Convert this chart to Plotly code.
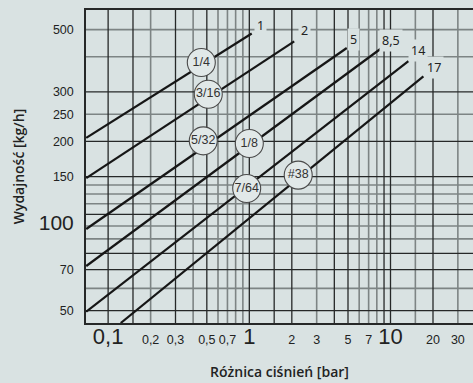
import math
import plotly.graph_objects as go

BG = "#d9e2e2"

# ---- data ----
series_names = ["1", "2", "5", "8,5", "14", "17"]
line_x0 = [0.07, 0.07, 0.07, 0.07, 0.07, 0.1228]
line_y0 = [206, 148, 97.6, 72.1, 49.6, 45.2]
line_x1 = [1.04, 2.08, 4.9, 8.66, 13.4, 17.1]
line_y1 = [484, 454, 430, 430, 386, 341]

end_label_x = [1.204, 2.44, 5.45, 10.08, 15.7, 20.4]
end_label_y = [518, 497, 462, 458, 420, 368]

nozzle_names = ["1/4", "3/16", "5/32", "1/8", "7/64", "#38"]
nozzle_x = [0.457, 0.512, 0.472, 1.0, 0.958, 2.22]
nozzle_y = [382, 294.5, 201, 196.7, 136.1, 151.8]

x_tick_vals = [0.1, 0.2, 0.3, 0.5, 0.7, 1, 2, 3, 5, 7, 10, 20, 30]
x_tick_text = ["0,1", "0,2", "0,3", "0,5", "0,7", "1", "2", "3", "5", "7", "10", "20", "30"]
x_big = ["0,1", "1", "10"]
y_tick_vals = [50, 70, 100, 150, 200, 250, 300, 500]
y_tick_text = ["50", "70", "100", "150", "200", "250", "300", "500"]
y_big = ["100"]

x_grid_dark = [0.1, 0.15, 0.3, 0.5, 1, 1.5, 2, 4, 5, 9, 10, 20]
x_grid_gray = [0.2, 0.4, 0.6, 0.7, 0.8, 0.9, 3, 6, 7, 8, 15, 30]
y_grid_dark = [50, 70, 80, 110, 150, 200, 300]
y_grid_gray = [60, 90, 100, 120, 130, 140, 250, 400, 500]

X_RANGE = [0.0697, 38.4]
Y_RANGE = [45.2, 587]

fig = go.Figure()

def vlines(vals):
    xs, ys = [], []
    for v in vals:
        xs += [v, v, None]
        ys += [Y_RANGE[0], Y_RANGE[1], None]
    return xs, ys

def hlines(vals):
    xs, ys = [], []
    for v in vals:
        xs += [X_RANGE[0], X_RANGE[1], None]
        ys += [v, v, None]
    return xs, ys

for vals, fn, col, w in [
    (x_grid_gray, vlines, "#7d8484", 1.6),
    (y_grid_gray, hlines, "#7d8484", 1.6),
    (x_grid_dark, vlines, "#262828", 1.3),
    (y_grid_dark, hlines, "#262828", 1.3),
]:
    xs, ys = fn(vals)
    fig.add_trace(go.Scatter(x=xs, y=ys, mode="lines",
                             line=dict(color=col, width=w),
                             hoverinfo="skip", showlegend=False))

for i, name in enumerate(series_names):
    fig.add_trace(go.Scatter(x=[line_x0[i], line_x1[i]], y=[line_y0[i], line_y1[i]],
                             mode="lines", name=name,
                             line=dict(color="#161616", width=2.2),
                             showlegend=False))

fig.add_trace(go.Scatter(x=nozzle_x, y=nozzle_y, mode="markers+text",
                         text=nozzle_names, textposition="middle center",
                         textfont=dict(family="Liberation Sans Narrow, Arial Narrow, Liberation Sans, sans-serif",
                                       size=12.5, color="#333333"),
                         marker=dict(size=28, color="#e1e8e8",
                                     line=dict(color="#4a4a4a", width=1.1)),
                         showlegend=False, cliponaxis=False))

for i, name in enumerate(series_names):
    fig.add_annotation(x=math.log10(end_label_x[i]), y=math.log10(end_label_y[i]),
                       xref="x", yref="y", text=name, showarrow=False,
                       font=dict(family="Noto Sans, sans-serif", size=12.5, color="#222222"),
                       bgcolor=BG, borderpad=2)

def tick_labels(texts, big, big_size):
    out = []
    for t in texts:
        if t in big:
            out.append('<span style="font-size:%dpx">%s</span>' % (big_size, t))
        else:
            out.append(t)
    return out

fig.update_xaxes(type="log", range=[math.log10(X_RANGE[0]), math.log10(X_RANGE[1])],
                 tickvals=x_tick_vals, ticktext=tick_labels(x_tick_text, x_big, 22),
                 tickfont=dict(family="Liberation Sans Narrow, Arial Narrow, Liberation Sans, sans-serif",
                               size=12.5, color="#222222"),
                 tickangle=0, automargin=False,
                 showgrid=False, zeroline=False, ticks="", ticklabelstandoff=4,
                 showline=True, linecolor="#262828", linewidth=1.5, mirror=True,
                 title=dict(text="Różnica ciśnień [bar]", standoff=19,
                            font=dict(family="Open Sans, sans-serif", size=14,
                                      weight=600, color="#222222")))
fig.update_yaxes(type="log", range=[math.log10(Y_RANGE[0]), math.log10(Y_RANGE[1])],
                 tickvals=y_tick_vals, ticktext=tick_labels(y_tick_text, y_big, 21),
                 tickfont=dict(family="Liberation Sans Narrow, Arial Narrow, Liberation Sans, sans-serif",
                               size=12.5, color="#222222"),
                 automargin=False,
                 showgrid=False, zeroline=False, ticks="", ticklabelstandoff=8,
                 showline=True, linecolor="#262828", linewidth=1.5, mirror=False,
                 title=dict(text="Wydajność [kg/h]", standoff=11,
                            font=dict(family="Open Sans, sans-serif", size=14,
                                      weight=600, color="#222222")))

fig.update_layout(width=473, height=383, margin=dict(l=86, r=0, t=10, b=60),
                  paper_bgcolor=BG, plot_bgcolor=BG, showlegend=False)

fig.write_html("out.html", config={"displayModeBar": False},
               post_script="document.body.style.margin='0';document.body.style.background='%s';" % BG)
